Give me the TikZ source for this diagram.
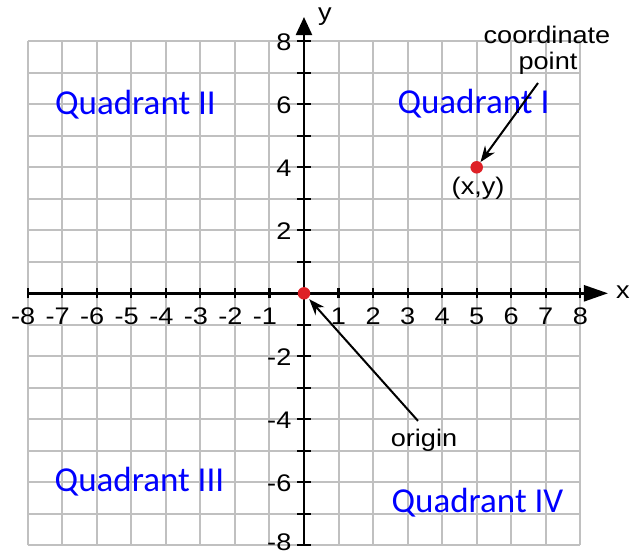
\documentclass[tikz,border=0pt]{standalone}
\usepackage{fontspec}
\setmainfont{Liberation Sans}
\newfontfamily\calib{Carlito}
\usetikzlibrary{arrows.meta}
\definecolor{gridgray}{RGB}{192,192,192}
\definecolor{dotred}{RGB}{222,32,38}
\definecolor{quadblue}{RGB}{0,0,255}
\newcommand\wide[1]{\scalebox{1.13}[1]{#1}}
\begin{document}
\begin{tikzpicture}[x=34.54pt,y=31.5pt,
  gridline/.style={gridgray,line width=2pt},
  axis/.style={black,line width=2.4pt},
  tickmark/.style={black,line width=2.2pt},
  lbl/.style={inner sep=0pt,font=\fontsize{24}{24}\selectfont},
  quad/.style={inner sep=0pt,text=quadblue,font=\calib\fontsize{35}{35}\selectfont},
  dot/.style={circle,fill=dotred,inner sep=0pt,minimum size=12.5pt},
  pointer/.style={black,line width=2pt,-{Stealth[length=16pt,width=12pt]}}]
\useasboundingbox (-8.801,-8.276) rectangle (9.699,9.311);
% grid
\foreach \i in {-8,...,8} {
  \draw[gridline] (\i,-8) -- (\i,8);
  \draw[gridline] (-8,\i) -- (8,\i);
}
% axes
\draw[axis,-{Triangle[length=24pt,width=16pt]}] (-8,0) -- (8.80,0);
\draw[axis,-{Triangle[length=18pt,width=16pt]}] (0,-8) -- (0,8.77);
\foreach \i in {-8,...,8} {
  \draw[tickmark] (\i,-0.16) -- (\i,0.16);
  \draw[tickmark] (-0.19,\i) -- (0.19,\i);
}
% x labels
\foreach \i in {1,...,8} {
  \node[lbl,anchor=base] (xl\i) at (\i,-0.99) {\wide{\i}};
  \node[lbl,anchor=base] (xm\i) at (-\i,-0.99) {\wide{\llap{-}\i}};
}
% y labels
\foreach \i in {2,4,6,8} {
  \node[lbl,anchor=base east] (yl\i) at (-0.36,\i-0.28) {\wide{\i}};
}
\foreach \i in {2,4,6} {
  \node[lbl,anchor=base east] (ym\i) at (-0.36,-\i-0.28) {\wide{-\i}};
}
\node[lbl,anchor=base east] (ym8) at (-0.36,-8.17) {\wide{-8}};
\node[lbl] (xname) at (9.236,0.04) {\wide{x}};
\node[lbl] (yname) at (0.608,8.77) {\wide{y}};
% points
\node[dot] (O) at (0,0) {};
\node[dot] (P) at (5,4) {};
\node[lbl] (xy) at (5.04,3.34) {\wide{(x,y)}};
\node[lbl] (cp1) at (7.035,8.2) {\wide{coordinate}};
\node[lbl] (cp2) at (7.064,7.31) {\wide{point}};
\node[lbl] (orig) at (3.474,-4.657) {\wide{origin}};
% quadrant labels
\node[quad] (q1) at (4.907,6.01) {Quadrant I};
\node[quad] (q2) at (-4.878,5.978) {Quadrant II};
\node[quad] (q3) at (-4.763,-5.99) {Quadrant III};
\node[quad] (q4) at (5.023,-6.657) {Quadrant IV};
% pointers
\coordinate (cpstart) at (6.775,6.676);
\coordinate (orstart) at (3.3,-4.05);
\draw[pointer] (cpstart) -- (P);
\draw[pointer,shorten >=1.5pt] (orstart) -- (O);
\end{tikzpicture}
\end{document}
